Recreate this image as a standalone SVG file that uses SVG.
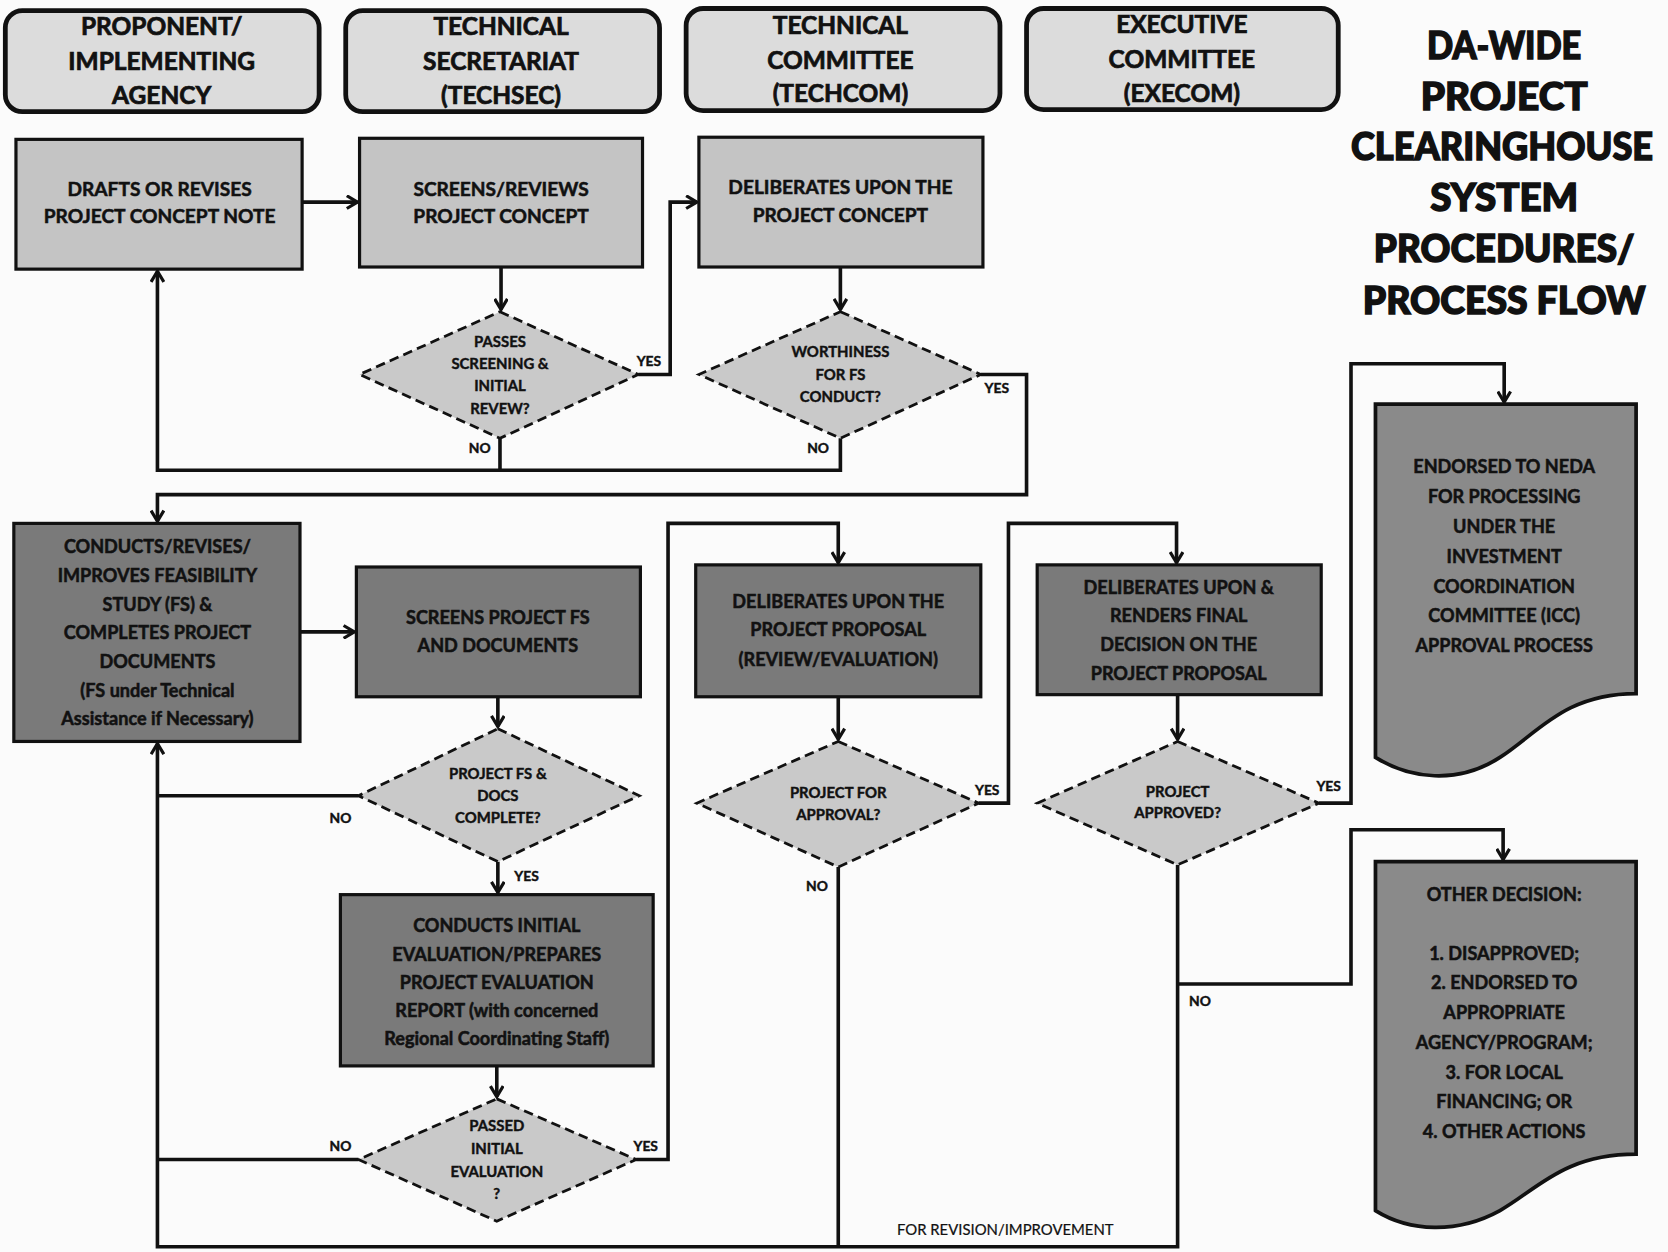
<svg xmlns="http://www.w3.org/2000/svg" width="1668" height="1252" viewBox="0 0 1668 1252">
<defs>
<style>
.hdr{fill:#dcdcdc;stroke:#111;stroke-width:4.5}
.lt{fill:#c4c4c4;stroke:#111;stroke-width:3}
.dk{fill:#7a7a7a;stroke:#111;stroke-width:3}
.dia{fill:#c9c9c9;stroke:#111;stroke-width:2.6;stroke-dasharray:9 5}
.doc{fill:#8a8a8a;stroke:#111;stroke-width:3.5}
.con{fill:none;stroke:#111;stroke-width:3.4;stroke-linejoin:miter}
text{font-family:Lato,"Liberation Sans",sans-serif;font-weight:bold;text-anchor:middle;fill:#111;stroke:#111;stroke-width:0.5}
.h{font-size:23px;stroke-width:0.7}
.b{font-size:18px}
.s{font-size:17px}
.d{font-size:14px;stroke-width:0.4}
.l{font-size:13px;stroke-width:0.4}
.t{font-size:36px;font-weight:900;stroke-width:1.4}
.r{font-size:14px;font-weight:normal;stroke-width:0.2}
</style>
<marker id="ar" viewBox="0 0 14 14" markerWidth="14" markerHeight="14" refX="12" refY="7" orient="auto" markerUnits="userSpaceOnUse">
<path d="M2,1 L12,7 L2,13" fill="none" stroke="#111" stroke-width="3"/>
</marker>
</defs>
<rect x="0" y="0" width="1668" height="1252" fill="#fbfbfb"/>
<g transform="scale(1.06378)">
<!-- headers -->
<g id="hdr-proponent"><rect class="hdr" x="5" y="10" width="295" height="95" rx="16"/>
<text class="h"><tspan x="152" y="33">PROPONENT/</tspan><tspan x="152" y="66">IMPLEMENTING</tspan><tspan x="152" y="98">AGENCY</tspan></text></g>
<g id="hdr-techsec"><rect class="hdr" x="325" y="10" width="295" height="95" rx="16"/>
<text class="h"><tspan x="471" y="33">TECHNICAL</tspan><tspan x="471" y="66">SECRETARIAT</tspan><tspan x="471" y="98">(TECHSEC)</tspan></text></g>
<g id="hdr-techcom"><rect class="hdr" x="645" y="8" width="295" height="96" rx="16"/>
<text class="h"><tspan x="790" y="32">TECHNICAL</tspan><tspan x="790" y="65">COMMITTEE</tspan><tspan x="790" y="96">(TECHCOM)</tspan></text></g>
<g id="hdr-execom"><rect class="hdr" x="965" y="8" width="293" height="95" rx="16"/>
<text class="h"><tspan x="1111" y="31">EXECUTIVE</tspan><tspan x="1111" y="64">COMMITTEE</tspan><tspan x="1111" y="96">(EXECOM)</tspan></text></g>
<!-- title -->
<g id="title">
<text class="t" x="1414" y="55" textLength="145" lengthAdjust="spacingAndGlyphs">DA-WIDE</text>
<text class="t" x="1414" y="103" textLength="157" lengthAdjust="spacingAndGlyphs">PROJECT</text>
<text class="t" x="1412" y="150" textLength="284" lengthAdjust="spacingAndGlyphs">CLEARINGHOUSE</text>
<text class="t" x="1414" y="198" textLength="139" lengthAdjust="spacingAndGlyphs">SYSTEM</text>
<text class="t" x="1414" y="246" textLength="245" lengthAdjust="spacingAndGlyphs">PROCEDURES/</text>
<text class="t" x="1414" y="295" textLength="266" lengthAdjust="spacingAndGlyphs">PROCESS FLOW</text>
</g>
<!-- connectors -->
<g id="connectors">
<path class="con" d="M284,190 H336" marker-end="url(#ar)"/>
<path class="con" d="M471,251 V291" marker-end="url(#ar)"/>
<path class="con" d="M600,352 H630 V190 H655" marker-end="url(#ar)"/>
<path class="con" d="M470,412 V442"/>
<path class="con" d="M790,412 V442 H148 V255" marker-end="url(#ar)"/>
<path class="con" d="M790,251 V291" marker-end="url(#ar)"/>
<path class="con" d="M922,352 H965 V465 H148 V490" marker-end="url(#ar)"/>
<path class="con" d="M282,594 H333" marker-end="url(#ar)"/>
<path class="con" d="M468,655 V683" marker-end="url(#ar)"/>
<path class="con" d="M337,748 H148"/>
<path class="con" d="M468,810 V839" marker-end="url(#ar)"/>
<path class="con" d="M467,1002 V1031" marker-end="url(#ar)"/>
<path class="con" d="M337,1090 H148"/>
<path class="con" d="M598,1090 H628 V492 H788 V529" marker-end="url(#ar)"/>
<path class="con" d="M788,655 V695" marker-end="url(#ar)"/>
<path class="con" d="M920,755 H948 V492 H1106 V529" marker-end="url(#ar)"/>
<path class="con" d="M788,815 V1172"/>
<path class="con" d="M1107,653 V695" marker-end="url(#ar)"/>
<path class="con" d="M1107,813 V1172 H148 V699" marker-end="url(#ar)"/>
<path class="con" d="M1240,755 H1270 V342 H1414 V378" marker-end="url(#ar)"/>
<path class="con" d="M1107,925 H1270 V780 H1413 V808" marker-end="url(#ar)"/>
<text class="l" x="610" y="344">YES</text>
<text class="l" x="451" y="426">NO</text>
<text class="l" x="937" y="369">YES</text>
<text class="l" x="769" y="426">NO</text>
<text class="l" x="320" y="774">NO</text>
<text class="l" x="495" y="828">YES</text>
<text class="l" x="320" y="1082">NO</text>
<text class="l" x="607" y="1082">YES</text>
<text class="l" x="928" y="747">YES</text>
<text class="l" x="768" y="838">NO</text>
<text class="l" x="1249" y="744">YES</text>
<text class="l" x="1128" y="946">NO</text>
<text class="r" x="945" y="1161">FOR REVISION/IMPROVEMENT</text>
</g>
<!-- row 1 -->
<g id="drafts"><rect class="lt" x="15" y="131" width="269" height="122"/>
<text class="b"><tspan x="150" y="184">DRAFTS OR REVISES</tspan><tspan x="150" y="210">PROJECT CONCEPT NOTE</tspan></text></g>
<g id="screens-concept"><rect class="lt" x="338" y="130" width="266" height="121"/>
<text class="b"><tspan x="471" y="184">SCREENS/REVIEWS</tspan><tspan x="471" y="210">PROJECT CONCEPT</tspan></text></g>
<g id="deliberates-concept"><rect class="lt" x="657" y="129" width="267" height="122"/>
<text class="b"><tspan x="790" y="182">DELIBERATES UPON THE</tspan><tspan x="790" y="209">PROJECT CONCEPT</tspan></text></g>
<g id="passes-screening"><polygon class="dia" points="470,293 600,352 470,412 338,352"/>
<text class="d"><tspan x="470" y="326">PASSES</tspan><tspan x="470" y="347">SCREENING &amp;</tspan><tspan x="470" y="368">INITIAL</tspan><tspan x="470" y="389">REVEW?</tspan></text></g>
<g id="worthiness"><polygon class="dia" points="790,293 922,352 790,412 657,352"/>
<text class="d"><tspan x="790" y="336">WORTHINESS</tspan><tspan x="790" y="357">FOR FS</tspan><tspan x="790" y="378">CONDUCT?</tspan></text></g>
<!-- row 2 -->
<g id="conducts-fs"><rect class="dk" x="13" y="492" width="269" height="205"/>
<text class="s"><tspan x="148" y="520">CONDUCTS/REVISES/</tspan><tspan x="148" y="547">IMPROVES FEASIBILITY</tspan><tspan x="148" y="574">STUDY (FS) &amp;</tspan><tspan x="148" y="601">COMPLETES PROJECT</tspan><tspan x="148" y="628">DOCUMENTS</tspan><tspan x="148" y="655">(FS under Technical</tspan><tspan x="148" y="682">Assistance if Necessary)</tspan></text></g>
<g id="screens-fs"><rect class="dk" x="335" y="533" width="267" height="122"/>
<text class="s"><tspan x="468" y="587">SCREENS PROJECT FS</tspan><tspan x="468" y="613">AND DOCUMENTS</tspan></text></g>
<g id="fs-complete"><polygon class="dia" points="468,685 601,748 468,810 337,748"/>
<text class="d"><tspan x="468" y="732">PROJECT FS &amp;</tspan><tspan x="468" y="753">DOCS</tspan><tspan x="468" y="774">COMPLETE?</tspan></text></g>
<g id="initial-eval"><rect class="dk" x="320" y="841" width="294" height="161"/>
<text class="s"><tspan x="467" y="876">CONDUCTS INITIAL</tspan><tspan x="467" y="903">EVALUATION/PREPARES</tspan><tspan x="467" y="930">PROJECT EVALUATION</tspan><tspan x="467" y="956">REPORT (with concerned</tspan><tspan x="467" y="982">Regional Coordinating Staff)</tspan></text></g>
<g id="passed-eval"><polygon class="dia" points="467,1033 598,1090 467,1148 337,1090"/>
<text class="d"><tspan x="467" y="1063">PASSED</tspan><tspan x="467" y="1085">INITIAL</tspan><tspan x="467" y="1106">EVALUATION</tspan><tspan x="467" y="1127">?</tspan></text></g>
<g id="deliberates-proposal"><rect class="dk" x="654" y="531" width="268" height="124"/>
<text class="s"><tspan x="788" y="572">DELIBERATES UPON THE</tspan><tspan x="788" y="598">PROJECT PROPOSAL</tspan><tspan x="788" y="626">(REVIEW/EVALUATION)</tspan></text></g>
<g id="for-approval"><polygon class="dia" points="788,697 920,755 788,815 655,755"/>
<text class="d"><tspan x="788" y="750">PROJECT FOR</tspan><tspan x="788" y="771">APPROVAL?</tspan></text></g>
<g id="final-decision"><rect class="dk" x="975" y="531" width="267" height="122"/>
<text class="s"><tspan x="1108" y="558">DELIBERATES UPON &amp;</tspan><tspan x="1108" y="585">RENDERS FINAL</tspan><tspan x="1108" y="612">DECISION ON THE</tspan><tspan x="1108" y="639">PROJECT PROPOSAL</tspan></text></g>
<g id="approved"><polygon class="dia" points="1107,697 1240,755 1107,813 975,755"/>
<text class="d"><tspan x="1107" y="749">PROJECT</tspan><tspan x="1107" y="769">APPROVED?</tspan></text></g>
<!-- documents -->
<g id="endorsed-neda"><path class="doc" d="M1293,380 H1538 V652 C1470,652 1445,690 1410,712 C1370,738 1325,732 1293,712 Z"/>
<text class="s"><tspan x="1414" y="445">ENDORSED TO NEDA</tspan><tspan x="1414" y="473">FOR PROCESSING</tspan><tspan x="1414" y="501">UNDER THE</tspan><tspan x="1414" y="529">INVESTMENT</tspan><tspan x="1414" y="557">COORDINATION</tspan><tspan x="1414" y="585">COMMITTEE (ICC)</tspan><tspan x="1414" y="613">APPROVAL PROCESS</tspan></text></g>
<g id="other-decision"><path class="doc" d="M1293,810 H1538 V1085 C1470,1085 1445,1118 1410,1138 C1370,1160 1325,1158 1293,1138 Z"/>
<text class="s"><tspan x="1414" y="847">OTHER DECISION:</tspan><tspan x="1414" y="902">1. DISAPPROVED;</tspan><tspan x="1414" y="930">2. ENDORSED TO</tspan><tspan x="1414" y="958">APPROPRIATE</tspan><tspan x="1414" y="986">AGENCY/PROGRAM;</tspan><tspan x="1414" y="1014">3. FOR LOCAL</tspan><tspan x="1414" y="1042">FINANCING; OR</tspan><tspan x="1414" y="1070">4. OTHER ACTIONS</tspan></text></g>
</g>
</svg>
